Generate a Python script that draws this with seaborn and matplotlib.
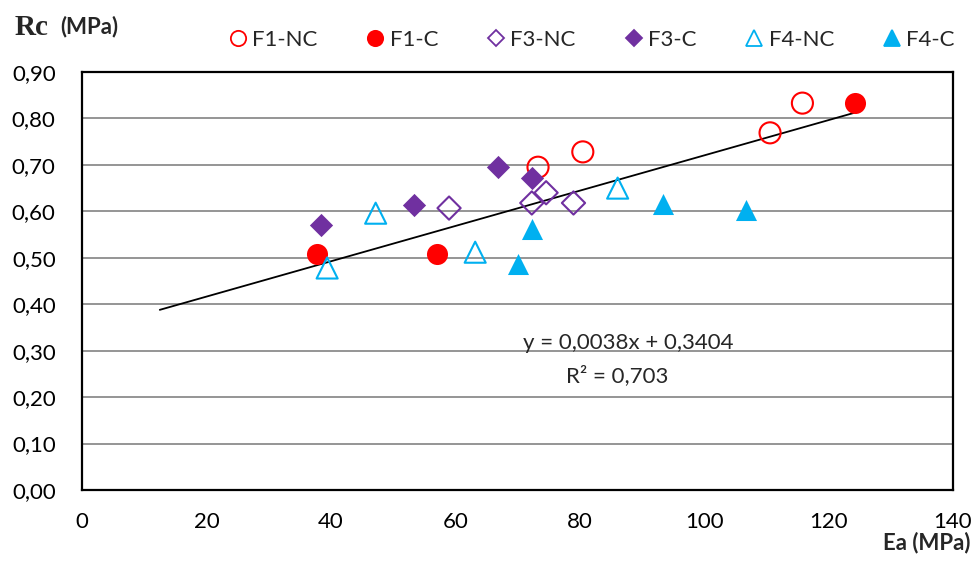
import matplotlib
matplotlib.use("Agg")
import matplotlib.pyplot as plt
import seaborn as sns
import numpy as np
import pandas as pd
from matplotlib.lines import Line2D

# Ea (MPa) and Rc (MPa) per formulation
f1_nc_ea = [73.3, 80.5, 110.6, 115.8]
f1_nc_rc = [0.695, 0.728, 0.769, 0.833]
f1_c_ea = [37.8, 57.0, 124.3]
f1_c_rc = [0.508, 0.508, 0.833]
f3_nc_ea = [59.0, 72.3, 74.6, 79.0]
f3_nc_rc = [0.607, 0.618, 0.640, 0.618]
f3_c_ea = [38.4, 53.3, 66.9, 72.3]
f3_c_rc = [0.571, 0.614, 0.695, 0.672]
f4_nc_ea = [39.4, 47.2, 63.2, 86.1]
f4_nc_rc = [0.478, 0.596, 0.512, 0.650]
f4_c_ea = [70.1, 72.3, 93.4, 106.7]
f4_c_rc = [0.487, 0.562, 0.616, 0.603]

series_names = ["F1-NC", "F1-C", "F3-NC", "F3-C", "F4-NC", "F4-C"]

# linear trend fitted over all points
trend_slope = 0.0038
trend_intercept = 0.3404
trend_r2 = 0.703
trend_x_range = [12.5, 124.5]

x_ticks = [0, 20, 40, 60, 80, 100, 120, 140]
y_ticks = [0.0, 0.1, 0.2, 0.3, 0.4, 0.5, 0.6, 0.7, 0.8, 0.9]

RED = "#FF0000"
PURPLE = "#7030A0"
BLUE = "#00B0F0"

styles = {
    "F1-NC": dict(marker="o", color=RED, filled=False, s=230),
    "F1-C": dict(marker="o", color=RED, filled=True, s=230),
    "F3-NC": dict(marker="D", color=PURPLE, filled=False, s=140),
    "F3-C": dict(marker="D", color=PURPLE, filled=True, s=140),
    "F4-NC": dict(marker="^", color=BLUE, filled=False, s=230),
    "F4-C": dict(marker="^", color=BLUE, filled=True, s=230),
}

data = [(f1_nc_ea, f1_nc_rc), (f1_c_ea, f1_c_rc), (f3_nc_ea, f3_nc_rc),
        (f3_c_ea, f3_c_rc), (f4_nc_ea, f4_nc_rc), (f4_c_ea, f4_c_rc)]
frames = []
for name, (ea, rc) in zip(series_names, data):
    frames.append(pd.DataFrame({"Ea": ea, "Rc": rc, "serie": name}))
df = pd.concat(frames, ignore_index=True)

sns.set_theme(style="white")
plt.rcParams["font.family"] = ["Lato", "DejaVu Sans"]

FS = 16

fig = plt.figure(figsize=(9.73, 5.62), dpi=100)
ax = fig.add_axes([0.0843, 0.1281, 0.8951, 0.7438])

for y in y_ticks[1:]:
    ax.axhline(y, color="#8C8C8C", lw=1.3, zorder=0)

# trend line
tx = np.array(trend_x_range)
ax.plot(tx, trend_slope * tx + trend_intercept, color="black", lw=1.3, zorder=2)

handles = []
for name in series_names:
    st = styles[name]
    sub = df[df["serie"] == name]
    if st["filled"]:
        sns.scatterplot(data=sub, x="Ea", y="Rc", ax=ax, marker=st["marker"],
                        s=st["s"], color=st["color"], edgecolor=st["color"],
                        linewidth=0, zorder=3, legend=False)
    else:
        sns.scatterplot(data=sub, x="Ea", y="Rc", ax=ax, marker=st["marker"],
                        s=st["s"], facecolor="none", edgecolor=st["color"],
                        linewidth=1.5, zorder=3, legend=False)
    handles.append(Line2D([], [], linestyle="none", marker=st["marker"],
                          markersize=11 if st["marker"] != "D" else 8.5,
                          markerfacecolor=st["color"] if st["filled"] else "none",
                          markeredgecolor=st["color"], markeredgewidth=1.3,
                          label=name))

ax.set_xlim(0, 140)
ax.set_ylim(0, 0.9)
ax.set_xticks(x_ticks)
ax.set_yticks(y_ticks)
ax.set_xticklabels([str(v) for v in x_ticks], fontsize=FS)
ax.set_yticklabels([f"{v:.2f}".replace(".", ",") for v in y_ticks], fontsize=FS)
ax.tick_params(axis="both", length=0, colors="black")
ax.tick_params(axis="x", pad=16)
ax.tick_params(axis="y", pad=19)
ax.set_xlabel("")
ax.set_ylabel("")
for sp in ax.spines.values():
    sp.set_visible(True)
    sp.set_color("black")
    sp.set_linewidth(1.6)

ax.text(87.8, 0.316, "y = 0,0038x + 0,3404", fontsize=FS, ha="center", va="center")
ax.text(86.0, 0.247, "R² = 0,703", fontsize=FS, ha="center", va="center")

fig.text(0.0150, 0.951, "Rc", fontsize=21, fontweight="bold",
         family=["Liberation Serif", "DejaVu Serif"], ha="left", va="center")
fig.text(0.0615, 0.953, "(MPa)", fontsize=FS, fontweight="bold", ha="left", va="center")
fig.text(0.997, 0.016, "Ea (MPa)", fontsize=FS, fontweight="bold", ha="right", va="bottom")

fig.legend(handles=handles, loc="center", ncol=6, frameon=False,
           bbox_to_anchor=(0.606, 0.929), fontsize=FS, handletextpad=0.05,
           columnspacing=2.0, handlelength=1.2)

fig.savefig("out.png", dpi=100)
